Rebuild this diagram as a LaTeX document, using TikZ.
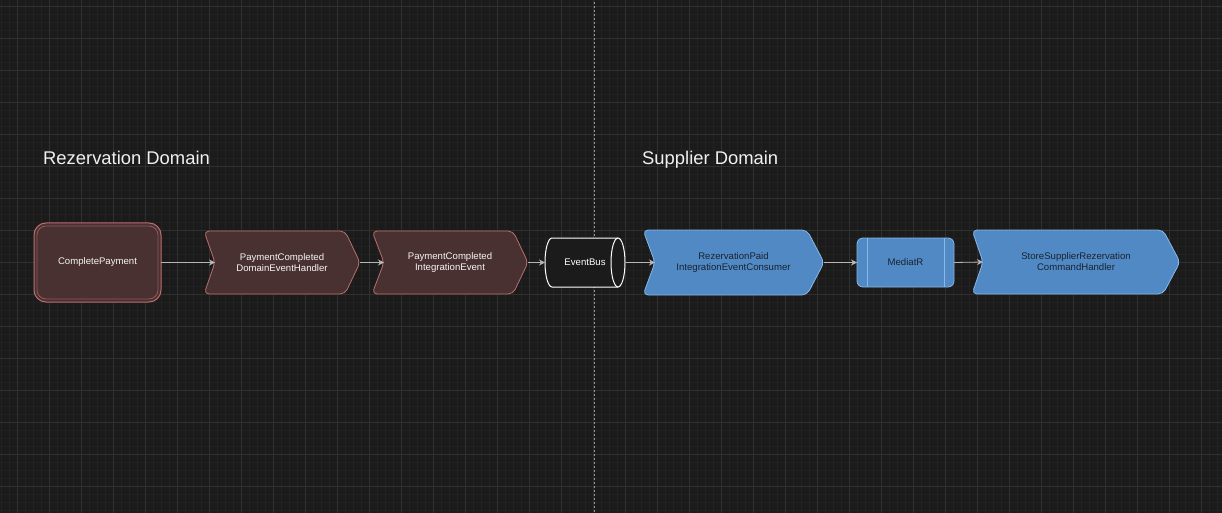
\documentclass[tikz,border=0pt]{standalone}
\usepackage{fontspec}
\setmainfont{Liberation Sans}
\usetikzlibrary{arrows.meta}
\definecolor{bgc}{HTML}{1B1B1B}
\definecolor{minorc}{HTML}{222222}
\definecolor{majorc}{HTML}{303030}
\definecolor{divc}{HTML}{9A9A9A}
\definecolor{brownfill}{HTML}{4A3131}
\definecolor{brownline}{HTML}{B86E6E}
\definecolor{bluefill}{HTML}{5089C4}
\definecolor{blueline}{HTML}{86B8EA}
\definecolor{arrc}{HTML}{B5B5B5}
\definecolor{darktext}{HTML}{1A2330}
\pgfdeclarelayer{bg}
\pgfdeclarelayer{shp}
\pgfsetlayers{bg,shp,main}
\newcommand\chevshape[4]{%
  \path[#4] (#1.north west) -- ([xshift=-#3]#1.north east) -- (#1.east)
    -- ([xshift=-#3]#1.south east) -- (#1.south west) -- ([xshift=#2]#1.west) -- cycle;}
\tikzset{
  lbl/.style={inner sep=0pt, outer sep=0pt, align=center, font=\fontsize{9.6}{11}\selectfont},
  heading/.style={anchor=base west, text=white!94!black, inner sep=0pt, font=\fontsize{18.4}{20}\selectfont},
  brownshape/.style={fill=brownfill, draw=brownline, line width=0.8pt, rounded corners=5pt},
  blueshape/.style={fill=bluefill, draw=blueline, line width=0.8pt, rounded corners=5pt},
  arr/.style={draw=arrc, line width=0.8pt, -{Stealth[length=6pt,width=6pt,fill=white!85!black]}},
}
\begin{document}
\begin{tikzpicture}[x=1pt,y=1pt]
\useasboundingbox (0,0) rectangle (1222,512);
% nodes (text)
\node[lbl, text=white!96!black, minimum width=127pt, minimum height=79pt] (cp) at (97.5,249.5) {CompletePayment};
\node[lbl, text=white!96!black, minimum width=156pt, minimum height=63pt] (pc1) at (282,249.5) {PaymentCompleted\\DomainEventHandler};
\node[lbl, text=white!96!black, minimum width=156pt, minimum height=63pt] (pc2) at (450,249.5) {PaymentCompleted\\IntegrationEvent};
\node[lbl, text=white, minimum width=80pt, minimum height=49pt] (eb) at (585,249.5) {EventBus};
\node[lbl, text=darktext, minimum width=181pt, minimum height=65pt] (rc) at (733.5,249.5) {RezervationPaid\\IntegrationEventConsumer};
\node[lbl, text=darktext, minimum width=97pt, minimum height=49pt] (md) at (905.5,249.5) {MediatR};
\node[lbl, text=darktext, minimum width=208pt, minimum height=64pt] (sh) at (1076,250) {StoreSupplierRezervation\\CommandHandler};
\node[heading] (h1) at (43,347.5) {Rezervation Domain};
\node[heading] (h2) at (642,347.5) {Supplier Domain};
% background
\begin{pgfonlayer}{bg}
\fill[bgc] (-6,-6) rectangle (1228,518);
\begin{scope}
\clip (-6,-6) rectangle (1228,518);
\draw[minorc, line width=0.6pt, shift={(1,2)}] (-8,-16) grid[step=8pt] (1232,520);
\draw[majorc, line width=0.8pt, shift={(17,26)}] (-32,-64) grid[step=32pt] (1216,512);
\end{scope}
\draw[divc, line width=0.9pt, dash pattern=on 2pt off 2pt] (594,518) -- (594,-6);
\end{pgfonlayer}
% shapes
\begin{pgfonlayer}{shp}
\path[fill=brownfill, draw=brownline, line width=1pt, rounded corners=12pt] (cp.south west) rectangle (cp.north east);
\draw[brownline!80!black, line width=0.8pt, rounded corners=9pt] ([shift={(3,3)}]cp.south west) rectangle ([shift={(-3,-3)}]cp.north east);
\chevshape{pc1}{11pt}{15pt}{brownshape}
\chevshape{pc2}{12pt}{15pt}{brownshape}
\chevshape{rc}{12pt}{17pt}{blueshape}
\chevshape{sh}{11pt}{17pt}{blueshape}
\path[fill=bgc, draw=white, line width=1pt] ([xshift=7pt]eb.north west) -- ([xshift=-7pt]eb.north east)
  arc[start angle=90, end angle=-90, x radius=7pt, y radius=24.5pt]
  -- ([xshift=7pt]eb.south west)
  arc[start angle=270, end angle=90, x radius=7pt, y radius=24.5pt] -- cycle;
\draw[white, line width=1pt] ([xshift=-7pt]eb.north east) arc[start angle=90, end angle=270, x radius=7pt, y radius=24.5pt];
\path[fill=bluefill, draw=blueline, line width=0.8pt, rounded corners=6pt] (md.south west) rectangle (md.north east);
\draw[blueline, line width=0.8pt] ([xshift=10pt]md.north west) -- ([xshift=10pt]md.south west);
\draw[blueline, line width=0.8pt] ([xshift=-10pt]md.north east) -- ([xshift=-10pt]md.south east);
\end{pgfonlayer}
% connectors
\draw[arr] (cp.east) -- ([xshift=11pt]pc1.west);
\draw[arr] (pc1.east) -- ([xshift=12pt]pc2.west);
\draw[arr] (pc2.east) -- (eb.west);
\draw[arr] (eb.east) -- ([xshift=12pt]rc.west);
\draw[arr] (rc.east) -- (md.west);
\draw[arr] (md.east) -- ([xshift=11pt]sh.west);
\end{tikzpicture}
\end{document}
